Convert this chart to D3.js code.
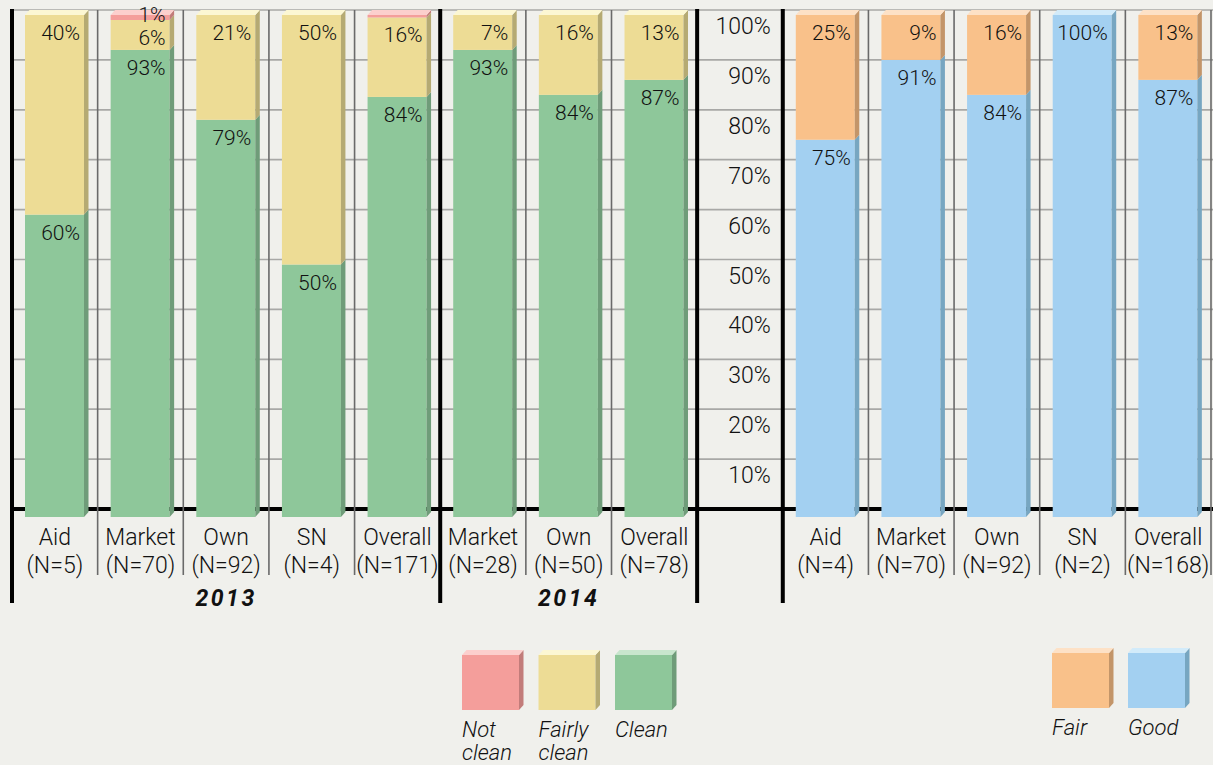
<!DOCTYPE html>
<html><head><meta charset="utf-8">
<script src="https://cdn.jsdelivr.net/npm/d3@7"></script>
<style>
body{margin:0;background:#f0f0ec;}
svg{display:block;font-family:Roboto, "Open Sans", sans-serif;}
</style>
</head><body>
<svg id="chart" width="1213" height="765"></svg>
<script>
// ---------- data ----------
const hygieneCategories = ["Aid","Market","Own","SN","Overall","Market","Own","Overall"];
const hygieneN = [5,70,92,4,171,28,50,78];
const hygieneYears = ["2013","2013","2013","2013","2013","2014","2014","2014"];
const yearLabels = ["2013","2014"];
const notClean    = [0, 1, 0, 0, 0.5, 0, 0, 0];
const fairlyClean = [40, 6, 21, 50, 16, 7, 16, 13];
const clean       = [60, 93, 79, 50, 84, 93, 84, 87];

const qualityCategories = ["Aid","Market","Own","SN","Overall"];
const qualityN = [4,70,92,2,168];
const fair = [25, 9, 16, 0, 13];
const good = [75, 91, 84, 100, 87];

const yTicks = [10,20,30,40,50,60,70,80,90,100];

const hygieneKeys = ["Clean","Fairly clean","Not clean"];
const qualityKeys = ["Good","Fair"];
const hygieneLegend = ["Not clean","Fairly clean","Clean"];
const qualityLegend = ["Fair","Good"];

// ---------- styles ----------
const colors = {
  "Not clean":   {front:"#f49e9b", top:"#fccfcd", side:"#c27c7a"},
  "Fairly clean":{front:"#eddc95", top:"#fcf7d3", side:"#b5aa73"},
  "Clean":       {front:"#8ec79a", top:"#c8e6cd", side:"#6f9c79"},
  "Fair":        {front:"#f9c18a", top:"#fde1c6", side:"#c39569"},
  "Good":        {front:"#a3d0f1", top:"#d2ebfa", side:"#77a6c1"}
};
const LW = 300; // light text weight

const svg = d3.select("#chart");
const W = 1213, H = 765;

// column slots
const hSlots = hygieneCategories.map((c,i)=>"h"+i);
const qSlots = qualityCategories.map((c,i)=>"q"+i);
const slots = [...hSlots, "axis", ...qSlots];
const x = d3.scaleBand().domain(slots).range([12, 1211]).padding(0);
const bw = x.bandwidth();
const y = d3.scaleLinear().domain([0,100]).range([509,10]);
const yFrac = v => y(v*100);

const barOff = 13, barW = 59, dx = 4.5, dy = 5;

// ---------- grid ----------
svg.append("g").selectAll("line").data(yTicks).join("line")
  .attr("x1",12).attr("x2",W).attr("y1",d=>y(d)).attr("y2",d=>y(d))
  .attr("stroke","#a8a8a6").attr("stroke-width",1.7);

// baseline axis
svg.append("line").attr("x1",12).attr("x2",W).attr("y1",y(0)).attr("y2",y(0))
  .attr("stroke","#000").attr("stroke-width",4);

// thin separators
const thinX = [...hSlots.filter((s,i)=>i!==0 && i!==5).map(s=>x(s)),
               ...qSlots.filter((s,i)=>i!==0).map(s=>x(s)), x("q4")+bw];
svg.append("g").selectAll("line").data(thinX).join("line")
  .attr("x1",d=>d).attr("x2",d=>d).attr("y1",y(100)).attr("y2",575)
  .attr("stroke","#6a6a6a").attr("stroke-width",1.6);

// thick separators
const thickX = [x("h0"), x("h5"), x("axis"), x("q0")];
svg.append("g").selectAll("line").data(thickX).join("line")
  .attr("x1",d=>d).attr("x2",d=>d).attr("y1",y(100)-1).attr("y2",603)
  .attr("stroke","#000").attr("stroke-width",4);

// y tick labels
svg.append("g").selectAll("text").data(yTicks).join("text")
  .attr("x", x("axis")+bw-12).attr("y", d=>y(d)+24)
  .attr("text-anchor","end").attr("font-size",23).attr("font-weight",LW).attr("fill","#111")
  .text(d=>d+"%");

// ---------- bars ----------
function drawStack(rows, keys, slotIds){
  const stacked = d3.stack().keys(keys).offset(d3.stackOffsetExpand)(rows);
  const g = svg.append("g");
  rows.forEach((row,i)=>{
    const xl = x(slotIds[i]) + barOff, xr = xl + barW;
    let topKey = null, topY = null;
    stacked.forEach(layer=>{
      const d = layer[i];
      const key = layer.key;
      if (row[key] <= 0) return;
      const yt = yFrac(d[1]) + dy;
      const yb = yFrac(d[0]) + dy + (d[0] === 0 ? 3 : 0);
      const c = colors[key];
      g.append("rect").attr("x",xl).attr("y",yt).attr("width",barW).attr("height",yb-yt)
        .attr("fill",c.front);
      g.append("polygon")
        .attr("points",[[xr,yt],[xr+dx,yt-dy],[xr+dx,yb-dy],[xr,yb]].map(p=>p.join(",")).join(" "))
        .attr("fill",c.side);
      topKey = key; topY = yt;
    });
    if (topKey){
      g.append("polygon")
        .attr("points",[[xl,topY],[xl+dx,topY-dy],[xr+dx,topY-dy],[xr,topY]].map(p=>p.join(",")).join(" "))
        .attr("fill",colors[topKey].top);
    }
    // labels
    stacked.forEach(layer=>{
      const d = layer[i];
      const v = row[layer.key];
      if (v < 1) return;
      const yt = yFrac(d[1]) + dy;
      g.append("text").attr("x",xr-4).attr("y", v < 3 ? yt+7 : yt+25)
        .attr("text-anchor","end").attr("font-size",21).attr("font-weight",LW).attr("fill","#111")
        .text(v+"%");
    });
  });
}

const hygieneRows = hygieneCategories.map((c,i)=>({"Clean":clean[i],"Fairly clean":fairlyClean[i],"Not clean":notClean[i]}));
drawStack(hygieneRows, hygieneKeys, hSlots);
const qualityRows = qualityCategories.map((c,i)=>({"Good":good[i],"Fair":fair[i]}));
drawStack(qualityRows, qualityKeys, qSlots);

// ---------- category labels ----------
function catLabels(cats, ns, slotIds){
  const g = svg.append("g").attr("font-size",23).attr("font-weight",LW).attr("fill","#111").attr("text-anchor","middle");
  cats.forEach((c,i)=>{
    const cx = x(slotIds[i]) + bw/2;
    g.append("text").attr("x",cx).attr("y",y(0)+36).text(c);
    g.append("text").attr("x",cx).attr("y",y(0)+64).text("(N="+ns[i]+")");
  });
}
catLabels(hygieneCategories, hygieneN, hSlots);
catLabels(qualityCategories, qualityN, qSlots);

// year labels
yearLabels.forEach(yr=>{
  const idx = hygieneYears.map((v,i)=>v===yr?i:-1).filter(i=>i>=0);
  const x0 = x(hSlots[idx[0]]), x1 = x(hSlots[idx[idx.length-1]]) + bw;
  svg.append("text").attr("x",(x0+x1)/2).attr("y",y(0)+97)
    .attr("text-anchor","middle").attr("font-size",23).attr("font-weight","bold")
    .attr("font-style","italic").attr("letter-spacing",2.5).attr("fill","#111")
    .text(yr);
});

// ---------- legends ----------
function legend(items, x0, step, top){
  const g = svg.append("g");
  const bwL = 57, bhL = 55;
  items.forEach((name,i)=>{
    const xl = x0 + i*step, xr = xl + bwL, yt = top, yb = top + bhL;
    const c = colors[name];
    g.append("rect").attr("x",xl).attr("y",yt).attr("width",bwL).attr("height",bhL).attr("fill",c.front);
    g.append("polygon").attr("points",[[xr,yt],[xr+dx,yt-dy],[xr+dx,yb-dy],[xr,yb]].map(p=>p.join(",")).join(" ")).attr("fill",c.side);
    g.append("polygon").attr("points",[[xl,yt],[xl+dx,yt-dy],[xr+dx,yt-dy],[xr,yt]].map(p=>p.join(",")).join(" ")).attr("fill",c.top);
    name.split(" ").forEach((w,j)=>{
      g.append("text").attr("x",xl).attr("y",yb+27+j*23)
        .attr("font-size",22).attr("font-style","italic").attr("font-weight",LW).attr("fill","#111")
        .text(w);
    });
  });
}
legend(hygieneLegend, 462, 76.5, 655);
legend(qualityLegend, 1052, 76, 653);
</script>
</body></html>
